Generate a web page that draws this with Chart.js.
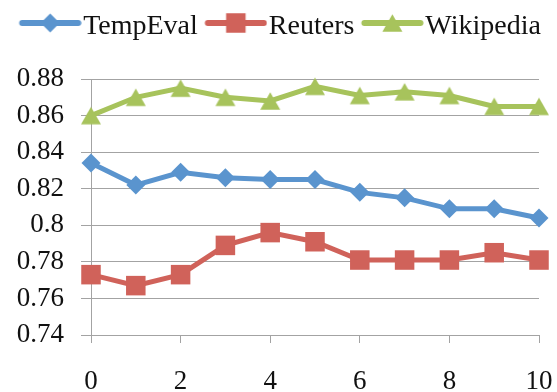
<!DOCTYPE html>
<html>
<head>
<meta charset="utf-8">
<script src="https://cdn.jsdelivr.net/npm/chart.js@4"></script>
<style>
html, body { margin: 0; padding: 0; background: #fff; }
#wrap { width: 557px; height: 392px; }
</style>
</head>
<body>
<div id="wrap"><canvas id="c"></canvas></div>
<script>
const xValues = [0, 1, 2, 3, 4, 5, 6, 7, 8, 9, 10];
const tempEval = [0.834, 0.822, 0.829, 0.826, 0.825, 0.825, 0.818, 0.815, 0.809, 0.809, 0.804];
const reuters = [0.773, 0.767, 0.773, 0.789, 0.796, 0.791, 0.781, 0.781, 0.781, 0.785, 0.781];
const wikipedia = [0.860, 0.870, 0.875, 0.870, 0.868, 0.876, 0.871, 0.873, 0.871, 0.865, 0.865];
const seriesNames = ['TempEval', 'Reuters', 'Wikipedia'];
const yTicks = [0.74, 0.76, 0.78, 0.8, 0.82, 0.84, 0.86, 0.88];
const xTicks = [0, 2, 4, 6, 8, 10];

const BLUE = '#5a94ce';
const RED = '#d0625a';
const GREEN = '#a7c35c';
const GRID = '#a3a3a3';
const FONT = "'Liberation Serif', 'Times New Roman', serif";

function drawMarker(ctx, shape, cx, cy, color) {
  ctx.fillStyle = color;
  ctx.beginPath();
  if (shape === 'diamond') {
    const r = 9.5;
    ctx.moveTo(cx, cy - r); ctx.lineTo(cx + r, cy); ctx.lineTo(cx, cy + r); ctx.lineTo(cx - r, cy);
  } else if (shape === 'square') {
    const s = 19.5;
    ctx.rect(cx - s / 2, cy - s / 2, s, s);
  } else {
    const w = 20, h = 17.5;
    ctx.moveTo(cx, cy - h / 2); ctx.lineTo(cx + w / 2, cy + h / 2); ctx.lineTo(cx - w / 2, cy + h / 2);
  }
  ctx.closePath();
  ctx.fill();
}

function triangleImage(color) {
  const c = document.createElement('canvas');
  c.width = 22; c.height = 20;
  drawMarker(c.getContext('2d'), 'triangle', 11, 10, color);
  return c;
}

function legendIcon(shape, color) {
  const c = document.createElement('canvas');
  c.width = 78; c.height = 36;
  const ctx = c.getContext('2d');
  const ly = 14;
  ctx.strokeStyle = color;
  ctx.lineWidth = 6;
  ctx.lineCap = 'round';
  ctx.beginPath();
  ctx.moveTo(18.5, ly); ctx.lineTo(74.5, ly);
  ctx.stroke();
  drawMarker(ctx, shape, 46.5, ly, color);
  return c;
}

const shapes = ['diamond', 'square', 'triangle'];
const colors = [BLUE, RED, GREEN];
const icons = shapes.map((s, i) => legendIcon(s, colors[i]));

function pts(arr) { return xValues.map((x, i) => ({ x: x, y: arr[i] })); }

const datasets = [
  { label: seriesNames[0], data: pts(tempEval), borderColor: BLUE, backgroundColor: BLUE,
    pointStyle: 'rectRot', pointRadius: 9.5, pointBorderWidth: 0 },
  { label: seriesNames[1], data: pts(reuters), borderColor: RED, backgroundColor: RED,
    pointStyle: 'rect', pointRadius: 13.8, pointBorderWidth: 0 },
  { label: seriesNames[2], data: pts(wikipedia), borderColor: GREEN, backgroundColor: GREEN,
    pointStyle: triangleImage(GREEN), pointRadius: 10, pointBorderWidth: 0 }
];
datasets.forEach(d => {
  d.borderWidth = 5;
  d.tension = 0;
  d.clip = false;
  d.fill = false;
  d.pointHoverRadius = d.pointRadius;
});

new Chart(document.getElementById('c'), {
  type: 'line',
  data: { datasets: datasets },
  options: {
    responsive: true,
    maintainAspectRatio: false,
    animation: false,
    events: [],
    layout: { padding: { top: 9, left: 0, right: 0, bottom: 0 } },
    plugins: {
      tooltip: { enabled: false },
      title: { display: true, text: '', padding: 0, weight: 500, position: 'top',
        font: { size: 12, lineHeight: '28px' } },
      legend: {
        position: 'top',
        labels: {
          usePointStyle: true,
          pointStyleWidth: 53,
          padding: 4,
          color: '#111',
          font: { family: FONT, size: 28 },
          generateLabels: () => seriesNames.map((n, i) => ({
            text: n, pointStyle: icons[i], fillStyle: colors[i], strokeStyle: colors[i],
            lineWidth: 0, hidden: false, datasetIndex: i, fontColor: '#111'
          }))
        }
      }
    },
    scales: {
      x: {
        type: 'linear',
        min: 0, max: 10,
        afterBuildTicks: s => { s.ticks = xTicks.map(v => ({ value: v })); },
        afterFit: s => { s.height = 57; s.paddingRight = 18; s.paddingLeft = 0; },
        grid: { display: true, drawOnChartArea: false, drawTicks: true, tickLength: 8, color: GRID, lineWidth: 1 },
        border: { display: true, color: GRID, width: 1 },
        ticks: { color: '#111', font: { family: FONT, size: 27 }, padding: 23, maxRotation: 0,
          callback: v => String(v) }
      },
      y: {
        type: 'linear',
        min: 0.74, max: 0.88,
        afterBuildTicks: s => { s.ticks = yTicks.map(v => ({ value: v })); },
        afterFit: s => { s.width = 91; },
        grid: { display: true, drawTicks: true, tickLength: 10, color: GRID, lineWidth: 1 },
        border: { display: true, color: GRID, width: 1 },
        ticks: { color: '#111', font: { family: FONT, size: 27 }, padding: 17,
          callback: v => String(parseFloat(Number(v).toFixed(2))) }
      }
    }
  }
});
</script>
</body>
</html>
